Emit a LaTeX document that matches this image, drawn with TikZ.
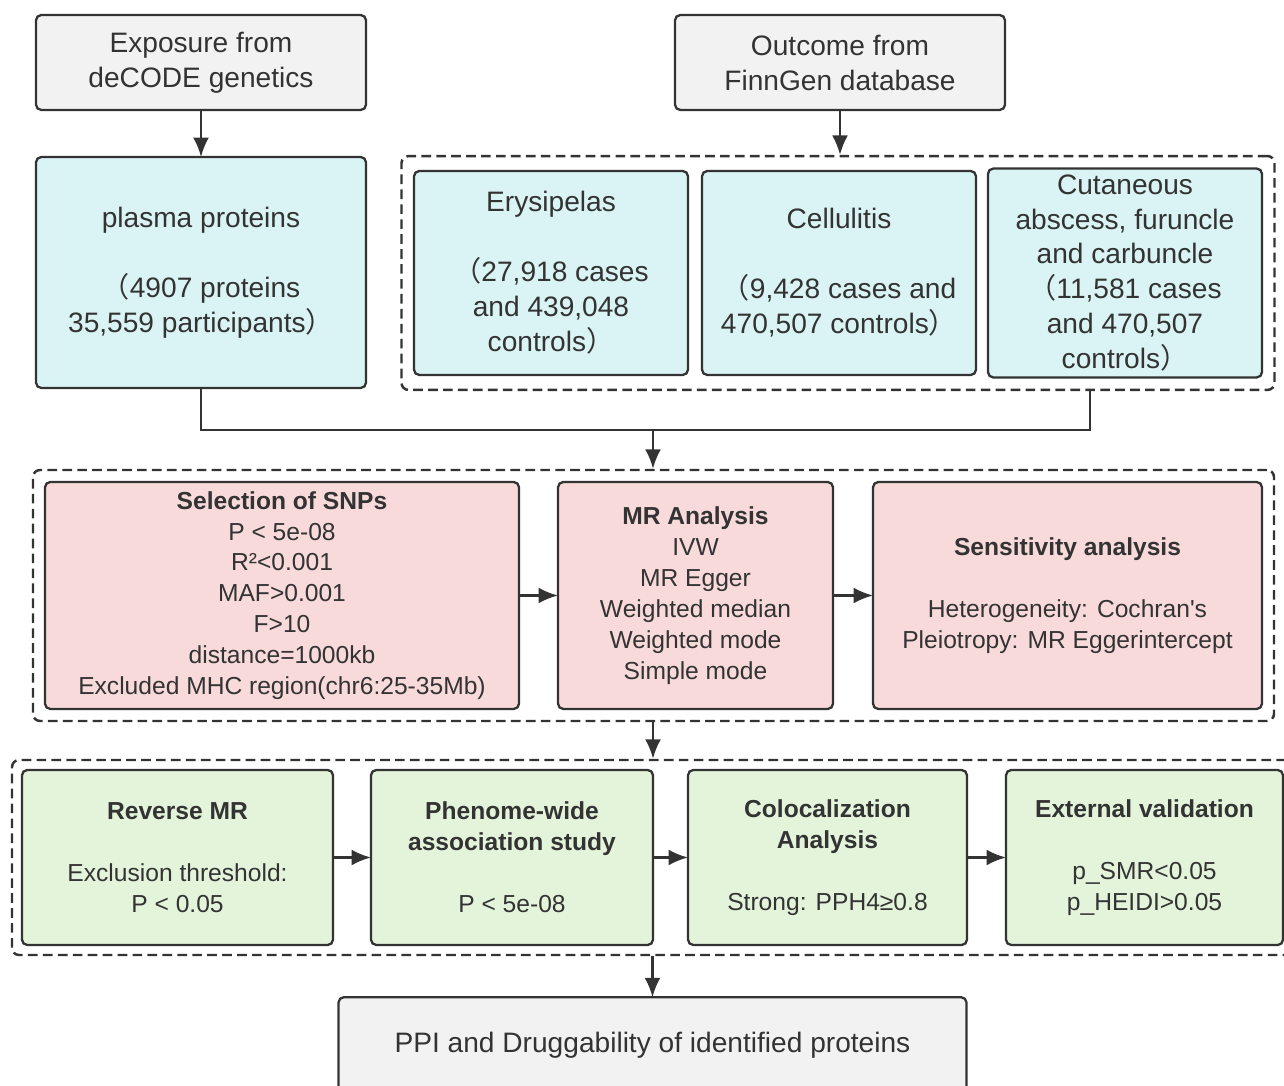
\documentclass[tikz,border=0pt]{standalone}
\usepackage{fontspec}
\setmainfont{Liberation Sans}
\newfontfamily\cjk{Noto Sans CJK SC}
\usetikzlibrary{arrows.meta,positioning,fit}
\definecolor{ln}{HTML}{333333}
\definecolor{srcC}{HTML}{F2F2F2}
\definecolor{cyC}{HTML}{DAF3F4}
\definecolor{rdC}{HTML}{F8DADA}
\definecolor{grC}{HTML}{E3F4DB}
\newcommand{\fwl}{{\cjk （}}
\newcommand{\fwr}{{\cjk ）}}
\tikzset{
  box/.style={rectangle,draw=ln,line width=1.3pt,rounded corners=3pt,align=center,text=ln,outer sep=0pt},
  src/.style={box,fill=srcC,minimum width=6.6cm,minimum height=1.9cm,font=\fontsize{16}{19.9}\selectfont},
  cy/.style={box,fill=cyC,minimum width=5.48cm,minimum height=4.08cm,font=\fontsize{16}{19.9}\selectfont},
  rd/.style={box,fill=rdC,minimum height=4.54cm,font=\fontsize{14}{17.6}\selectfont},
  gr/.style={box,fill=grC,minimum height=3.5cm,font=\fontsize{14}{17.6}\selectfont},
  grp/.style={rectangle,draw=ln,line width=1.4pt,dash pattern=on 5.5pt off 3pt,rounded corners=4pt},
  arr/.style={draw=ln,line width=1.3pt,-{Latex[length=11pt,width=9pt]}},
  ln/.style={draw=ln,line width=1.3pt},
}
\begin{document}
\begin{tikzpicture}
  \useasboundingbox (0,0) rectangle (25.68,-21.72);
  % sources
  \node[src] (exp) at (4.02,-1.25) {Exposure from\\deCODE genetics};
  \node[src,right=6.18cm of exp] (out) {Outcome from\\FinnGen database};
  \node[cy,minimum width=6.6cm,minimum height=4.62cm,below=0.94cm of exp] (pla) {plasma proteins\\[\baselineskip]\fwl 4907 proteins\\35,559 participants\fwr};
  \node[cy] (ery) at (11.02,-5.46) {Erysipelas\\[\baselineskip]\fwl 27,918 cases\\and 439,048\\controls\fwr};
  \node[cy,right=0.28cm of ery] (cel) {Cellulitis\\[\baselineskip]\fwl 9,428 cases and\\470,507 controls\fwr};
  \node[cy,right=0.24cm of cel] (cut) {Cutaneous\\abscess, furuncle\\and carbuncle\\\fwl 11,581 cases\\and 470,507\\controls\fwr};
  \node[grp,fit=(ery)(cut),inner sep=0.25cm] (grp1) {};
  \draw[arr] (exp) -- (pla);
  \draw[arr] (out) -- (out |- grp1.north);
  % MR step
  \node[rd,minimum width=9.48cm] (sel) at (5.64,-11.91) {\textbf{Selection of SNPs}\\P < 5e-08\\R²<0.001\\MAF>0.001\\F>10\\distance=1000kb\\Excluded MHC region(chr6:25-35Mb)};
  \node[rd,minimum width=5.5cm,right=0.78cm of sel] (mr) {\textbf{MR Analysis}\\IVW\\MR Egger\\Weighted median\\Weighted mode\\Simple mode};
  \node[rd,minimum width=7.78cm,right=0.8cm of mr] (sens) {\textbf{Sensitivity analysis}\\[\baselineskip]Heterogeneity: Cochran\textquotesingle s\\Pleiotropy: MR Eggerintercept};
  \node[grp,fit=(sel)(sens),inner sep=0.24cm] (grp2) {};
  \coordinate (mrg) at (13.06,-8.6);
  \coordinate (rj) at (21.8,-8.6);
  \draw[ln] (pla.south) |- (rj) -- (rj |- grp1.south);
  \draw[arr] (mrg) -- (mrg |- grp2.north);
  \draw[arr] (sel) -- (mr);
  \draw[arr] (mr) -- (sens);
  % follow-up
  \node[gr,minimum width=6.22cm] (rev) at (3.55,-17.15) {\textbf{Reverse MR}\\[\baselineskip]Exclusion threshold:\\P < 0.05};
  \node[gr,minimum width=5.64cm,right=0.76cm of rev] (phe) {\textbf{Phenome-wide}\\\textbf{association study}\\[\baselineskip]P < 5e-08};
  \node[gr,minimum width=5.58cm,right=0.7cm of phe] (col) {\textbf{Colocalization}\\\textbf{Analysis}\\[\baselineskip]Strong: PPH4≥0.8};
  \node[gr,minimum width=5.54cm,right=0.78cm of col] (ext) {\textbf{External validation}\\[\baselineskip]p\_SMR<0.05\\p\_HEIDI>0.05};
  \node[grp,fit=(rev)(ext),inner sep=0.2cm] (grp3) {};
  \draw[arr] (mrg |- grp2.south) -- (mrg |- grp3.north);
  \draw[arr] (rev) -- (phe);
  \draw[arr] (phe) -- (col);
  \draw[arr] (col) -- (ext);
  \node[src,minimum width=12.56cm,minimum height=1.92cm,below=0.82cm of grp3] (ppi) {PPI and Druggability of identified proteins};
  \draw[arr] (grp3.south -| ppi.north) -- (ppi.north);
\end{tikzpicture}
\end{document}
